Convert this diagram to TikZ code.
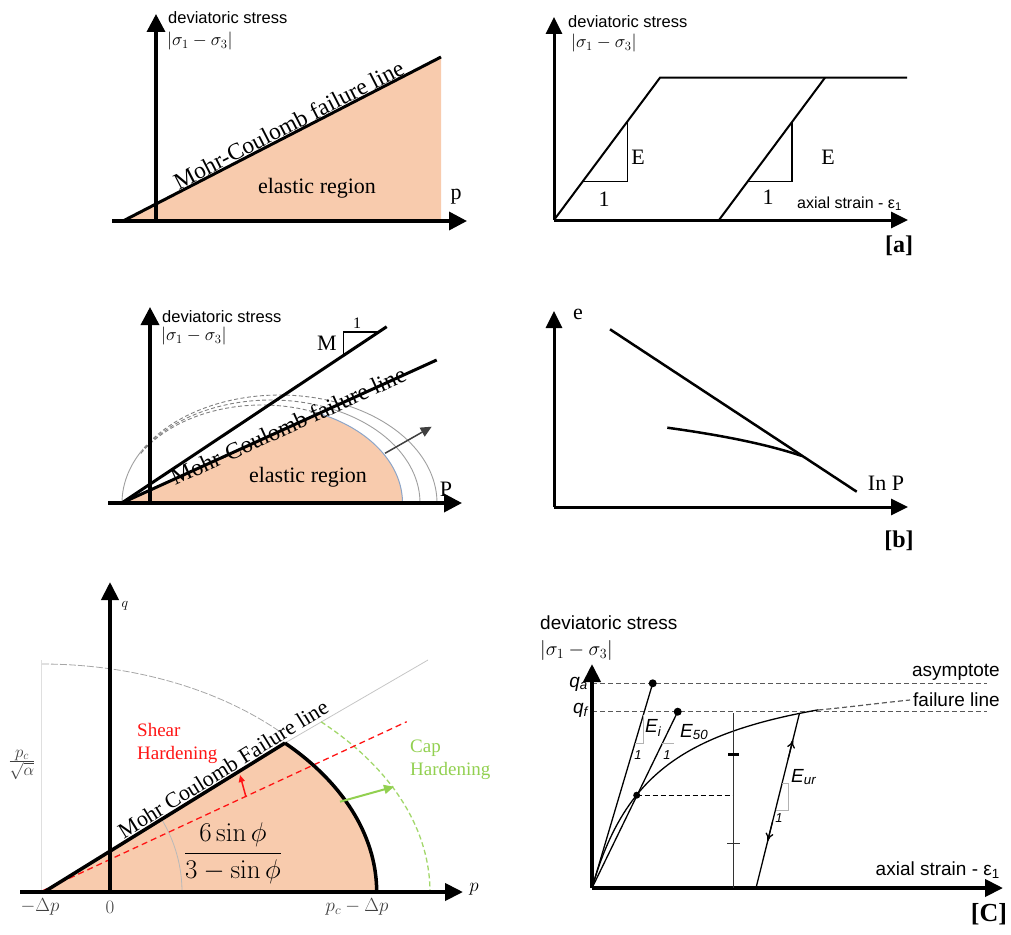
\RequirePackage{fix-cm}
\documentclass[tikz,border=0pt]{standalone}
\usepackage[no-math]{fontspec}
\setmainfont{Liberation Serif}
\setsansfont{Liberation Sans}
\usetikzlibrary{arrows.meta,calc}
\definecolor{peach}{RGB}{248,203,173}
\definecolor{capgreen}{RGB}{146,208,80}
\definecolor{capblue}{RGB}{140,165,200}
\definecolor{lbl}{RGB}{64,64,64}
\definecolor{hardred}{RGB}{255,20,20}
\newcommand{\fsz}[1]{\fontsize{#1}{#1}\selectfont}
\begin{document}
\begin{tikzpicture}[x=1pt,y=-1pt,
  axA/.style={line width=3.5pt,-{Triangle[length=18pt,width=18pt]}},
  axB/.style={line width=3pt,-{Triangle[length=17pt,width=16pt]}},
  axC/.style={line width=4pt,-{Triangle[length=18pt,width=17pt]}},
  sanslbl/.style={font=\sffamily\fsz{16.5},inner sep=0pt,anchor=west},
  sigmalbl/.style={font=\fsz{18},inner sep=0pt,anchor=west},
  serifbig/.style={font=\fsz{22},inner sep=0pt},
  panellbl/.style={font=\bfseries\fsz{24},inner sep=0pt},
  thinln/.style={line width=1.5pt},
  greyarc/.style={gray!75,line width=0.9pt},
  capdash/.style={gray,line width=0.9pt,dash pattern=on 4pt off 2.5pt},
  brlbl/.style={font=\sffamily\fsz{19},inner sep=0pt},
  qdash/.style={gray!70!black,line width=1.2pt,dash pattern=on 5pt off 3pt},
  smallone/.style={font=\sffamily\itshape\fsz{13},inner sep=0pt},
  dot/.style={circle,fill=black,inner sep=0pt,minimum size=8pt},
  mlbl/.style={font=\fsz{19},text=lbl,inner sep=0pt}
]
\useasboundingbox (0,0) rectangle (1011,934);

% ===================== Panel 1 (top left) =====================
\coordinate (A1o) at (123,221);
\coordinate (A1e) at (441,57);
\coordinate (A1c) at (441,221);
\coordinate (A1x0) at (112,221);
\coordinate (A1x1) at (467,221);
\coordinate (A1y0) at (156,221);
\coordinate (A1y1) at (156,14);
\fill[peach] (A1o) -- (A1e) -- (A1c) -- cycle;
\draw[axA] (A1x0) -- (A1x1);
\draw[axA] (A1y0) -- (A1y1);
\draw[line width=3pt] (A1o) -- (A1e);
\node[sanslbl] (t1a) at (168,18) {deviatoric stress};
\node[sigmalbl] (t1b) at (167,41) {$|\sigma_1-\sigma_3|$};
\node[font=\fsz{23.5},inner sep=1pt,anchor=south,rotate=27.2] (t1c) at (293,133) {Mohr-Coulomb failure line};
\node[serifbig] (t1d) at (317,188) {elastic region};
\node[serifbig] (t1e) at (456,197) {p};

% ===================== Panel 2 (top right) =====================
\coordinate (B0) at (554,220);
\coordinate (Bx) at (908,220);
\coordinate (By) at (554,17);
\coordinate (Bk) at (660,77.7);
\coordinate (Bh) at (907,77.7);
\coordinate (B2a) at (719,220);
\coordinate (B2b) at (825,77.7);
\draw[axB] (B0) -- (Bx);
\draw[axB] (B0) -- (By);
\draw[line width=2pt] (B0) -- (Bk) -- (Bh);
\draw[line width=2pt] (B2a) -- (B2b);
\coordinate (T1a) at (627.3,121.7);
\coordinate (T1b) at (627.3,181.7);
\coordinate (T1c) at (583,181.7);
\draw[thinln] (T1a) -- (T1b) -- (T1c);
\coordinate (T2a) at (792,121.7);
\coordinate (T2b) at (792,181.7);
\coordinate (T2c) at (747.5,181.7);
\draw[thinln] (T2a) -- (T2b) -- (T2c);
\node[sanslbl] (t2a) at (568,22) {deviatoric stress};
\node[sigmalbl] (t2b) at (571,43) {$|\sigma_1-\sigma_3|$};
\node[serifbig] (t2c) at (638,157) {E};
\node[serifbig] (t2d) at (604,199) {1};
\node[serifbig] (t2e) at (828,157) {E};
\node[serifbig] (t2f) at (768,197) {1};
\node[sanslbl,font=\sffamily\fsz{16}] (t2g) at (797,204) {axial strain - ε\textsubscript{1}};
\node[panellbl] (t2h) at (899,246) {[a]};

% ===================== Panel 3 (middle left) =====================
\coordinate (C0) at (121.7,503);
\coordinate (Cx0) at (108,503);
\coordinate (Cx1) at (462,503);
\coordinate (Cy0) at (150,503);
\coordinate (Cy1) at (150,307);
\coordinate (CM) at (386.7,326.7);
\coordinate (CMC) at (436.7,360);
\coordinate (Cint) at (319,413.5);
\fill[peach] (C0) -- (Cint) -- plot[domain=66:0,samples=40] ({262+140.5*cos(\x)},{503-98*sin(\x)}) -- cycle;
% cap surfaces
\draw[capblue,line width=1pt] plot[domain=66:0,samples=40] ({262+140.5*cos(\x)},{503-98*sin(\x)});
\draw[greyarc] plot[domain=66.5:0,samples=40] ({271+149*cos(\x)},{503-103*sin(\x)});
\draw[greyarc] plot[domain=67:0,samples=40] ({279.5+157.5*cos(\x)},{503-108*sin(\x)});
\draw[capdash] plot[domain=66:150,samples=50] ({262+140.5*cos(\x)},{503-98*sin(\x)});
\draw[capdash] plot[domain=66.5:150,samples=50] ({271+149*cos(\x)},{503-103*sin(\x)});
\draw[capdash] plot[domain=67:150,samples=50] ({279.5+157.5*cos(\x)},{503-108*sin(\x)});
\draw[greyarc] plot[domain=150:180,samples=20] ({279.5+157.5*cos(\x)},{503-108*sin(\x)});
\draw[axA,line width=3.5pt] (Cx0) -- (Cx1);
\draw[axA,line width=3.5pt] (Cy0) -- (Cy1);
\draw[line width=3pt] (C0) -- (CM);
\draw[line width=3pt] (C0) -- (CMC);
\coordinate (Mt1) at (343.3,355.6);
\coordinate (Mt2) at (343.3,331.7);
\coordinate (Mt3) at (379,331.7);
\draw[line width=1.6pt] (Mt1) -- (Mt2) -- (Mt3);
\coordinate (Ca1) at (385,453.3);
\coordinate (Ca2) at (431.7,426.7);
\draw[lbl,line width=1.5pt,-{Triangle[length=11pt,width=10pt]}] (Ca1) -- (Ca2);
\node[sanslbl] (t3a) at (162,317) {deviatoric stress};
\node[sigmalbl] (t3b) at (161,336) {$|\sigma_1-\sigma_3|$};
\node[serifbig] (t3c) at (327,343) {M};
\node[font=\fsz{16},inner sep=0pt] (t3d) at (357,323) {1};
\node[font=\fsz{23.5},inner sep=0pt,anchor=base,rotate=24.4] (t3e) at (291.5,433) {Mohr-Coulomb failure line};
\node[serifbig] (t3f) at (308,477) {elastic region};
\node[serifbig] (t3g) at (446,489) {P};

% ===================== Panel 4 (middle right) =====================
\coordinate (D0) at (554,507);
\coordinate (Dx) at (908,507);
\coordinate (Dy) at (554,311);
\coordinate (D1a) at (610,329.3);
\coordinate (D1b) at (856.7,491.7);
\coordinate (D2a) at (667.3,427.7);
\coordinate (D2b) at (802,456);
\draw[axB] (D0) -- (Dx);
\draw[axB] (D0) -- (Dy);
\draw[line width=2.5pt] (D1a) -- (D1b);
\draw[line width=2.5pt] (D2a) .. controls (735,437) and (775,447) .. (D2b);
\node[serifbig] (t4a) at (578,314) {e};
\node[serifbig] (t4b) at (886,483) {In P};
\node[panellbl] (t4c) at (899,541) {[b]};

% ===================== Panel 5 (bottom left) =====================
\coordinate (E0) at (44,892);
\coordinate (Ex0) at (20,892);
\coordinate (Ex1) at (463,892);
\coordinate (Ey0) at (110,892);
\coordinate (Ey1) at (110,582);
\coordinate (Ecorner) at (285,743);
\coordinate (Egrey) at (428,660);
\coordinate (Ecapend) at (376.7,892);
\coordinate (Er0) at (42,891);
\coordinate (Er1) at (406.7,721.7);
\fill[peach] (E0) -- (Ecorner) -- plot[domain=43.45:0,samples=40] ({42+334.7*cos(\x)},{892-216.6*sin(\x)}) -- cycle;
% faint construction lines
\draw[gray!25,line width=0.6pt] (41,660) -- (41,892);
\draw[gray!70,line width=0.8pt,dash pattern=on 7pt off 2pt] plot[domain=90:44,samples=50] ({42+334.7*cos(\x)},{892-228*sin(\x)});
\draw[gray!45,line width=0.8pt] (Ecorner) -- (Egrey);
\draw[gray!55,line width=0.8pt] plot[domain=31.8:0,samples=30] ({42+140*cos(\x)},{892-140*sin(\x)});
\draw[capgreen!85,line width=1.3pt,dash pattern=on 5pt off 3pt] plot[domain=44:0,samples=40] ({42+388*cos(\x)},{892-245*sin(\x)});
\draw[hardred,line width=1.3pt,dash pattern=on 6pt off 4pt] (Er0) -- (Er1);
\draw[axC] (Ex0) -- (Ex1);
\draw[axC] (Ey0) -- (Ey1);
\draw[line width=3.5pt] (E0) -- (Ecorner);
\draw[line width=3.5pt] (Ecorner) -- plot[domain=43.45:0,samples=40] ({42+334.7*cos(\x)},{892-216.6*sin(\x)});
\coordinate (Ra1) at (246,797);
\coordinate (Ra2) at (240,775);
\draw[hardred,line width=1.5pt,-{Triangle[length=7pt,width=6pt]}] (Ra1) -- (Ra2);
\coordinate (Ga1) at (340,801.7);
\coordinate (Ga2) at (394,786.7);
\draw[capgreen,line width=2pt,-{Triangle[length=10pt,width=9pt]}] (Ga1) -- (Ga2);
\node[font=\fsz{14},inner sep=0pt] (t5q) at (125,606) {$q$};
\node[font=\fsz{24},text=lbl,inner sep=0pt] (t5a) at (22,765) {$\frac{p_c}{\sqrt{\alpha}}$};
\node[font=\fsz{19},text=hardred,inner sep=0pt,anchor=west,align=left] (t5b) at (137,743) {Shear\\[4pt]Hardening};
\node[font=\fsz{19},text=capgreen,inner sep=0pt,anchor=west,align=left] (t5c) at (410,760) {Cap\\[4pt]Hardening};
\node[font=\fsz{22},inner sep=1.5pt,anchor=south,rotate=31.8] (t5d) at (228,777) {Mohr Coulomb Failure line};
\node[font=\fsz{27},inner sep=0pt] (t5e) at (233,853) {$\displaystyle\frac{6\sin\phi}{3-\sin\phi}$};
\node[mlbl] (t5f) at (40,907) {$-\Delta p$};
\node[mlbl] (t5g) at (110,907) {$0$};
\node[mlbl] (t5h) at (357,907) {$p_c-\Delta p$};
\node[font=\fsz{19},inner sep=0pt] (t5i) at (474,889) {$p$};

% ===================== Panel 6 (bottom right) =====================
\coordinate (F0) at (592,888);
\coordinate (Fx) at (1003,888);
\coordinate (Fy) at (592,664);
\coordinate (Fqa0) at (592,683.3);
\coordinate (Fqa1) at (987,683.3);
\coordinate (Fqf0) at (592,711.7);
\coordinate (Fqf1) at (987,711.7);
\coordinate (Fend) at (818.3,710);
\coordinate (Ffl) at (910,700);
\draw[qdash] (Fqa0) -- (Fqa1);
\draw[qdash] (Fqf0) -- (Fqf1);
\draw[qdash] (Fend) .. controls (850,707) and (880,703) .. (Ffl);
\draw[axC] (F0) -- (Fx);
\draw[axC] (F0) -- (Fy);
\node[dot] (Fdqa) at (652.7,683.3) {};
\node[dot] (Fd50) at (677.7,711.7) {};
\node[dot,minimum size=7pt] (Fdc) at (636.7,795.2) {};
\draw[line width=1.3pt] (F0) -- (Fdqa.center);
\draw[line width=1.3pt] (F0) -- (Fd50.center);
\draw[line width=1.3pt] plot[domain=0:226.3,samples=80] ({592+\x},{888-\x/(0.286+0.00435*\x)});
\coordinate (Fh1) at (733.3,795.2);
\draw[line width=1.3pt,dash pattern=on 5pt off 3pt] (Fdc.center) -- (Fh1);
\coordinate (Fv0) at (733.3,888);
\coordinate (Fv1) at (733.3,713.3);
\draw[gray!40!black,line width=1.2pt] (Fv0) -- (Fv1);
\draw[line width=3pt] (728,754) -- (739,754);
\draw[gray!40!black,line width=1pt] (727,843.3) -- (740,843.3);
\coordinate (Fu0) at (756,888);
\coordinate (Fu1) at (799.3,714);
\draw[line width=1.3pt] (Fu0) -- (Fu1);
\draw[line width=1.3pt,-{To[length=8pt,width=8pt]}] ($(Fu0)!0.74!(Fu1)$) -- ($(Fu0)!0.85!(Fu1)$);
\draw[line width=1.3pt,-{To[length=8pt,width=8pt]}] ($(Fu0)!0.38!(Fu1)$) -- ($(Fu0)!0.27!(Fu1)$);
% slope triangles
\draw[gray!60,line width=1pt] (643,715) -- (643,743) -- (635,743);
\draw[gray!60,line width=1pt] (662.4,743) -- (674,743);
\draw[gray!60,line width=1pt] (782,783) -- (788.3,783) -- (788.3,810) -- (776,810);
\node[brlbl,anchor=west] (t6a) at (540,623) {deviatoric stress};
\node[font=\fsz{20},inner sep=0pt,anchor=west] (t6b) at (540,650) {$|\sigma_1-\sigma_3|$};
\node[brlbl,anchor=east,font=\sffamily\itshape\fsz{19}] (t6c) at (588,684) {q\textsubscript{a}};
\node[brlbl,anchor=east,font=\sffamily\itshape\fsz{19}] (t6d) at (588,710) {q\textsubscript{f}};
\node[brlbl,anchor=east] (t6e) at (1000,672) {asymptote};
\node[brlbl,anchor=east] (t6f) at (1000,700) {failure line};
\node[brlbl,anchor=west,font=\sffamily\itshape\fsz{19}] (t6g) at (645,728) {E\textsubscript{i}};
\node[brlbl,anchor=west,font=\sffamily\itshape\fsz{19}] (t6h) at (680,732) {E\textsubscript{50}};
\node[brlbl,anchor=west,font=\sffamily\itshape\fsz{19}] (t6i) at (791,777) {E\textsubscript{ur}};
\node[smallone] (t6j) at (638,755) {1};
\node[smallone] (t6k) at (667,755) {1};
\node[smallone] (t6l) at (779,818) {1};
\node[brlbl,anchor=east] (t6m) at (1000,870) {axial strain - ε\textsubscript{1}};
\node[panellbl,font=\bfseries\fsz{26}] (t6n) at (989,914) {[C]};
\end{tikzpicture}
\end{document}
